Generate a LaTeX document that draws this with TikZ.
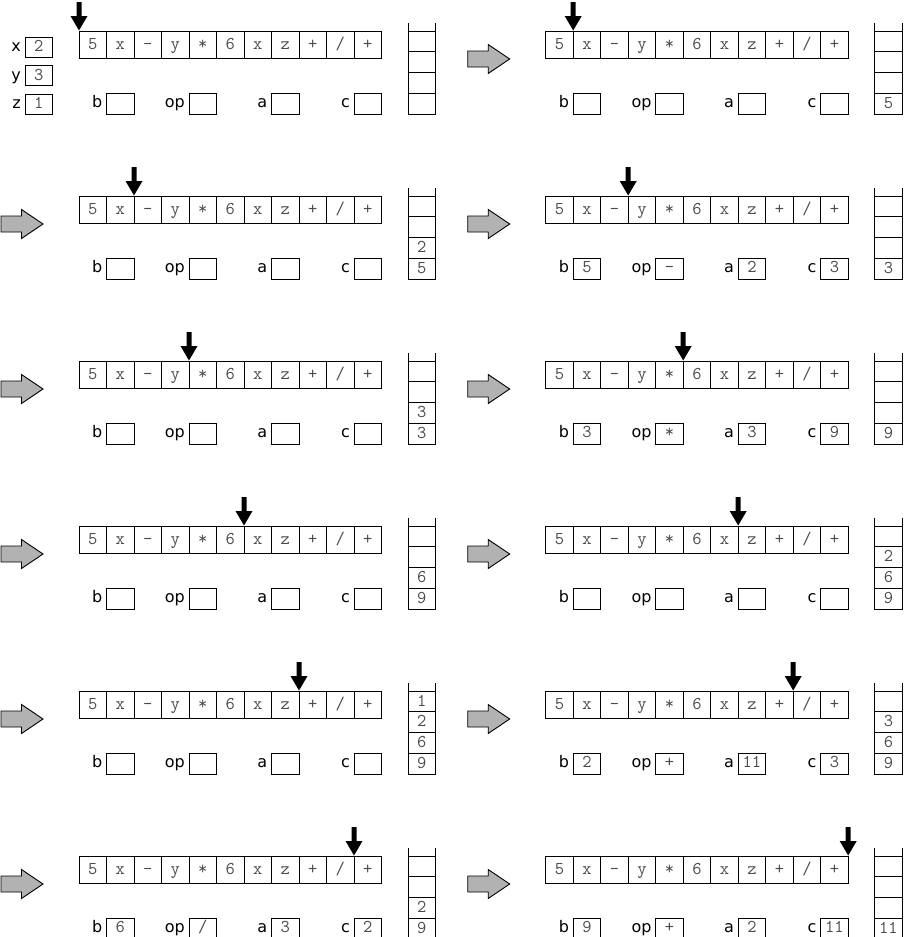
\documentclass[tikz,border=0pt]{standalone}
\usepackage{fontspec}
\newfontfamily\labfont{DejaVu Sans}
\definecolor{valgray}{RGB}{75,75,75}
\definecolor{arrowgray}{RGB}{178,178,178}
\tikzset{
  cellbox/.style={draw=black, line width=0.9pt, minimum width=27.5pt, minimum height=27.3pt, inner sep=0pt, outer sep=0pt, anchor=north west},
  regbox/.style={draw=black, line width=0.9pt, minimum width=27.5pt, minimum height=21pt, inner sep=0pt, outer sep=0pt, anchor=north west},
  varbox/.style={draw=black, line width=0.9pt, minimum width=27.5pt, minimum height=20pt, inner sep=0pt, outer sep=0pt, anchor=north west},
  val/.style={font=\fontsize{18}{18}\selectfont\ttfamily, text=valgray, inner sep=0pt, anchor=base},
  lab/.style={font=\fontsize{16}{16}\selectfont\labfont, text=black, inner sep=0pt, anchor=base east},
  stackline/.style={draw=black, line width=0.9pt},
  ptrarrow/.style={fill=black},
  nextarrow/.style={draw=black, fill=arrowgray, line width=0.9pt, line join=miter},
}
% #1 name, #2 ox, #3 oy, #4 pointer index, #5 b, #6 op, #7 a, #8 c
\newcommand\tracepanel[8]{%
  \begin{scope}[shift={(#2,#3)}]
    \foreach \t [count=\i from 0] in {5,x,{-},y,{*},6,x,z,{+},{/},{+}} {
      \node[cellbox] (#1t\i) at (27.5*\i,0) {};
      \node[val] (#1v\i) at (27.5*\i+13.75,18) {\t};
    }
    % pointer
    \fill[ptrarrow] (27.5*#4-2.5,-29) -- (27.5*#4+2.5,-29) -- (27.5*#4+2.5,-15)
      -- (27.5*#4+8.5,-15) -- (27.5*#4,-0.5) -- (27.5*#4-8.5,-15) -- (27.5*#4-2.5,-15) -- cycle;
    % stack frame
    \draw[stackline] (329,-8) -- (329,83) -- (356.5,83) -- (356.5,-8);
    \foreach \k in {0,20.75,41.5,62.25} {\draw[stackline] (329,\k) -- (356.5,\k);}
    % registers
    \node[regbox] (#1rb) at (27.5,62) {};
    \node[regbox] (#1rop) at (110,62) {};
    \node[regbox] (#1ra) at (192.5,62) {};
    \node[regbox] (#1rc) at (275,62) {};
    \node[lab] (#1lb) at (23.5,76) {b};
    \node[lab] (#1lop) at (106,76) {op};
    \node[lab] (#1la) at (188.5,76) {a};
    \node[lab] (#1lc) at (271,76) {c};
    \node[val] (#1vb) at (41.25,76) {#5};
    \node[val] (#1vop) at (123.75,76) {#6};
    \node[val] (#1va) at (206.25,76) {#7};
    \node[val] (#1vc) at (288.75,76) {#8};
  \end{scope}}
% #1 name, #2 ox, #3 oy, #4 list from bottom
\newcommand\stackvals[4]{%
  \begin{scope}[shift={(#2,#3)}]
    \foreach \s [count=\k from 0] in {#4} {
      \node[val] (#1s\k) at (342.75,77.25-20.75*\k) {\s};
    }
  \end{scope}}
\newcommand\nextstep[3]{%
  \begin{scope}[shift={(#2,#3)}]
    \draw[nextarrow] (-78,20) -- (-57.5,20) -- (-57.5,13.5) -- (-36,28)
      -- (-57.5,42.5) -- (-57.5,36) -- (-78,36) -- cycle;
  \end{scope}}
\begin{document}
\begin{tikzpicture}[x=1pt,y=-1pt]
\useasboundingbox (0,0) rectangle (904,937);
% variables
\begin{scope}[shift={(79,31)}]
  \node[varbox] (vx) at (-54,6) {};
  \node[varbox] (vy) at (-54,34.5) {};
  \node[varbox] (vz) at (-54,63) {};
  \node[lab] (lx) at (-58,20.5) {x};
  \node[lab] (ly) at (-58,49) {y};
  \node[lab] (lz) at (-58,77.5) {z};
  \node[val] (nx) at (-40.25,20.5) {2};
  \node[val] (ny) at (-40.25,49) {3};
  \node[val] (nz) at (-40.25,77.5) {1};
\end{scope}
\tracepanel{pa}{79}{31}{0}{}{}{}{}
\tracepanel{pb}{545.7}{31}{1}{}{}{}{}
\stackvals{pb}{545.7}{31}{5}
\nextstep{pb}{545.7}{31}
\tracepanel{pc}{79}{196}{2}{}{}{}{}
\stackvals{pc}{79}{196}{5,2}
\nextstep{pc}{79}{196}
\tracepanel{pd}{545.7}{196}{3}{5}{-}{2}{3}
\stackvals{pd}{545.7}{196}{3}
\nextstep{pd}{545.7}{196}
\tracepanel{pe}{79}{361}{4}{}{}{}{}
\stackvals{pe}{79}{361}{3,3}
\nextstep{pe}{79}{361}
\tracepanel{pf}{545.7}{361}{5}{3}{*}{3}{9}
\stackvals{pf}{545.7}{361}{9}
\nextstep{pf}{545.7}{361}
\tracepanel{pg}{79}{526}{6}{}{}{}{}
\stackvals{pg}{79}{526}{9,6}
\nextstep{pg}{79}{526}
\tracepanel{ph}{545.7}{526}{7}{}{}{}{}
\stackvals{ph}{545.7}{526}{9,6,2}
\nextstep{ph}{545.7}{526}
\tracepanel{pi}{79}{691}{8}{}{}{}{}
\stackvals{pi}{79}{691}{9,6,2,1}
\nextstep{pi}{79}{691}
\tracepanel{pj}{545.7}{691}{9}{2}{+}{11}{3}
\stackvals{pj}{545.7}{691}{9,6,3}
\nextstep{pj}{545.7}{691}
\tracepanel{pk}{79}{856}{10}{6}{/}{3}{2}
\stackvals{pk}{79}{856}{9,2}
\nextstep{pk}{79}{856}
\tracepanel{pl}{545.7}{856}{11}{9}{+}{2}{11}
\stackvals{pl}{545.7}{856}{11}
\nextstep{pl}{545.7}{856}
\end{tikzpicture}
\end{document}
